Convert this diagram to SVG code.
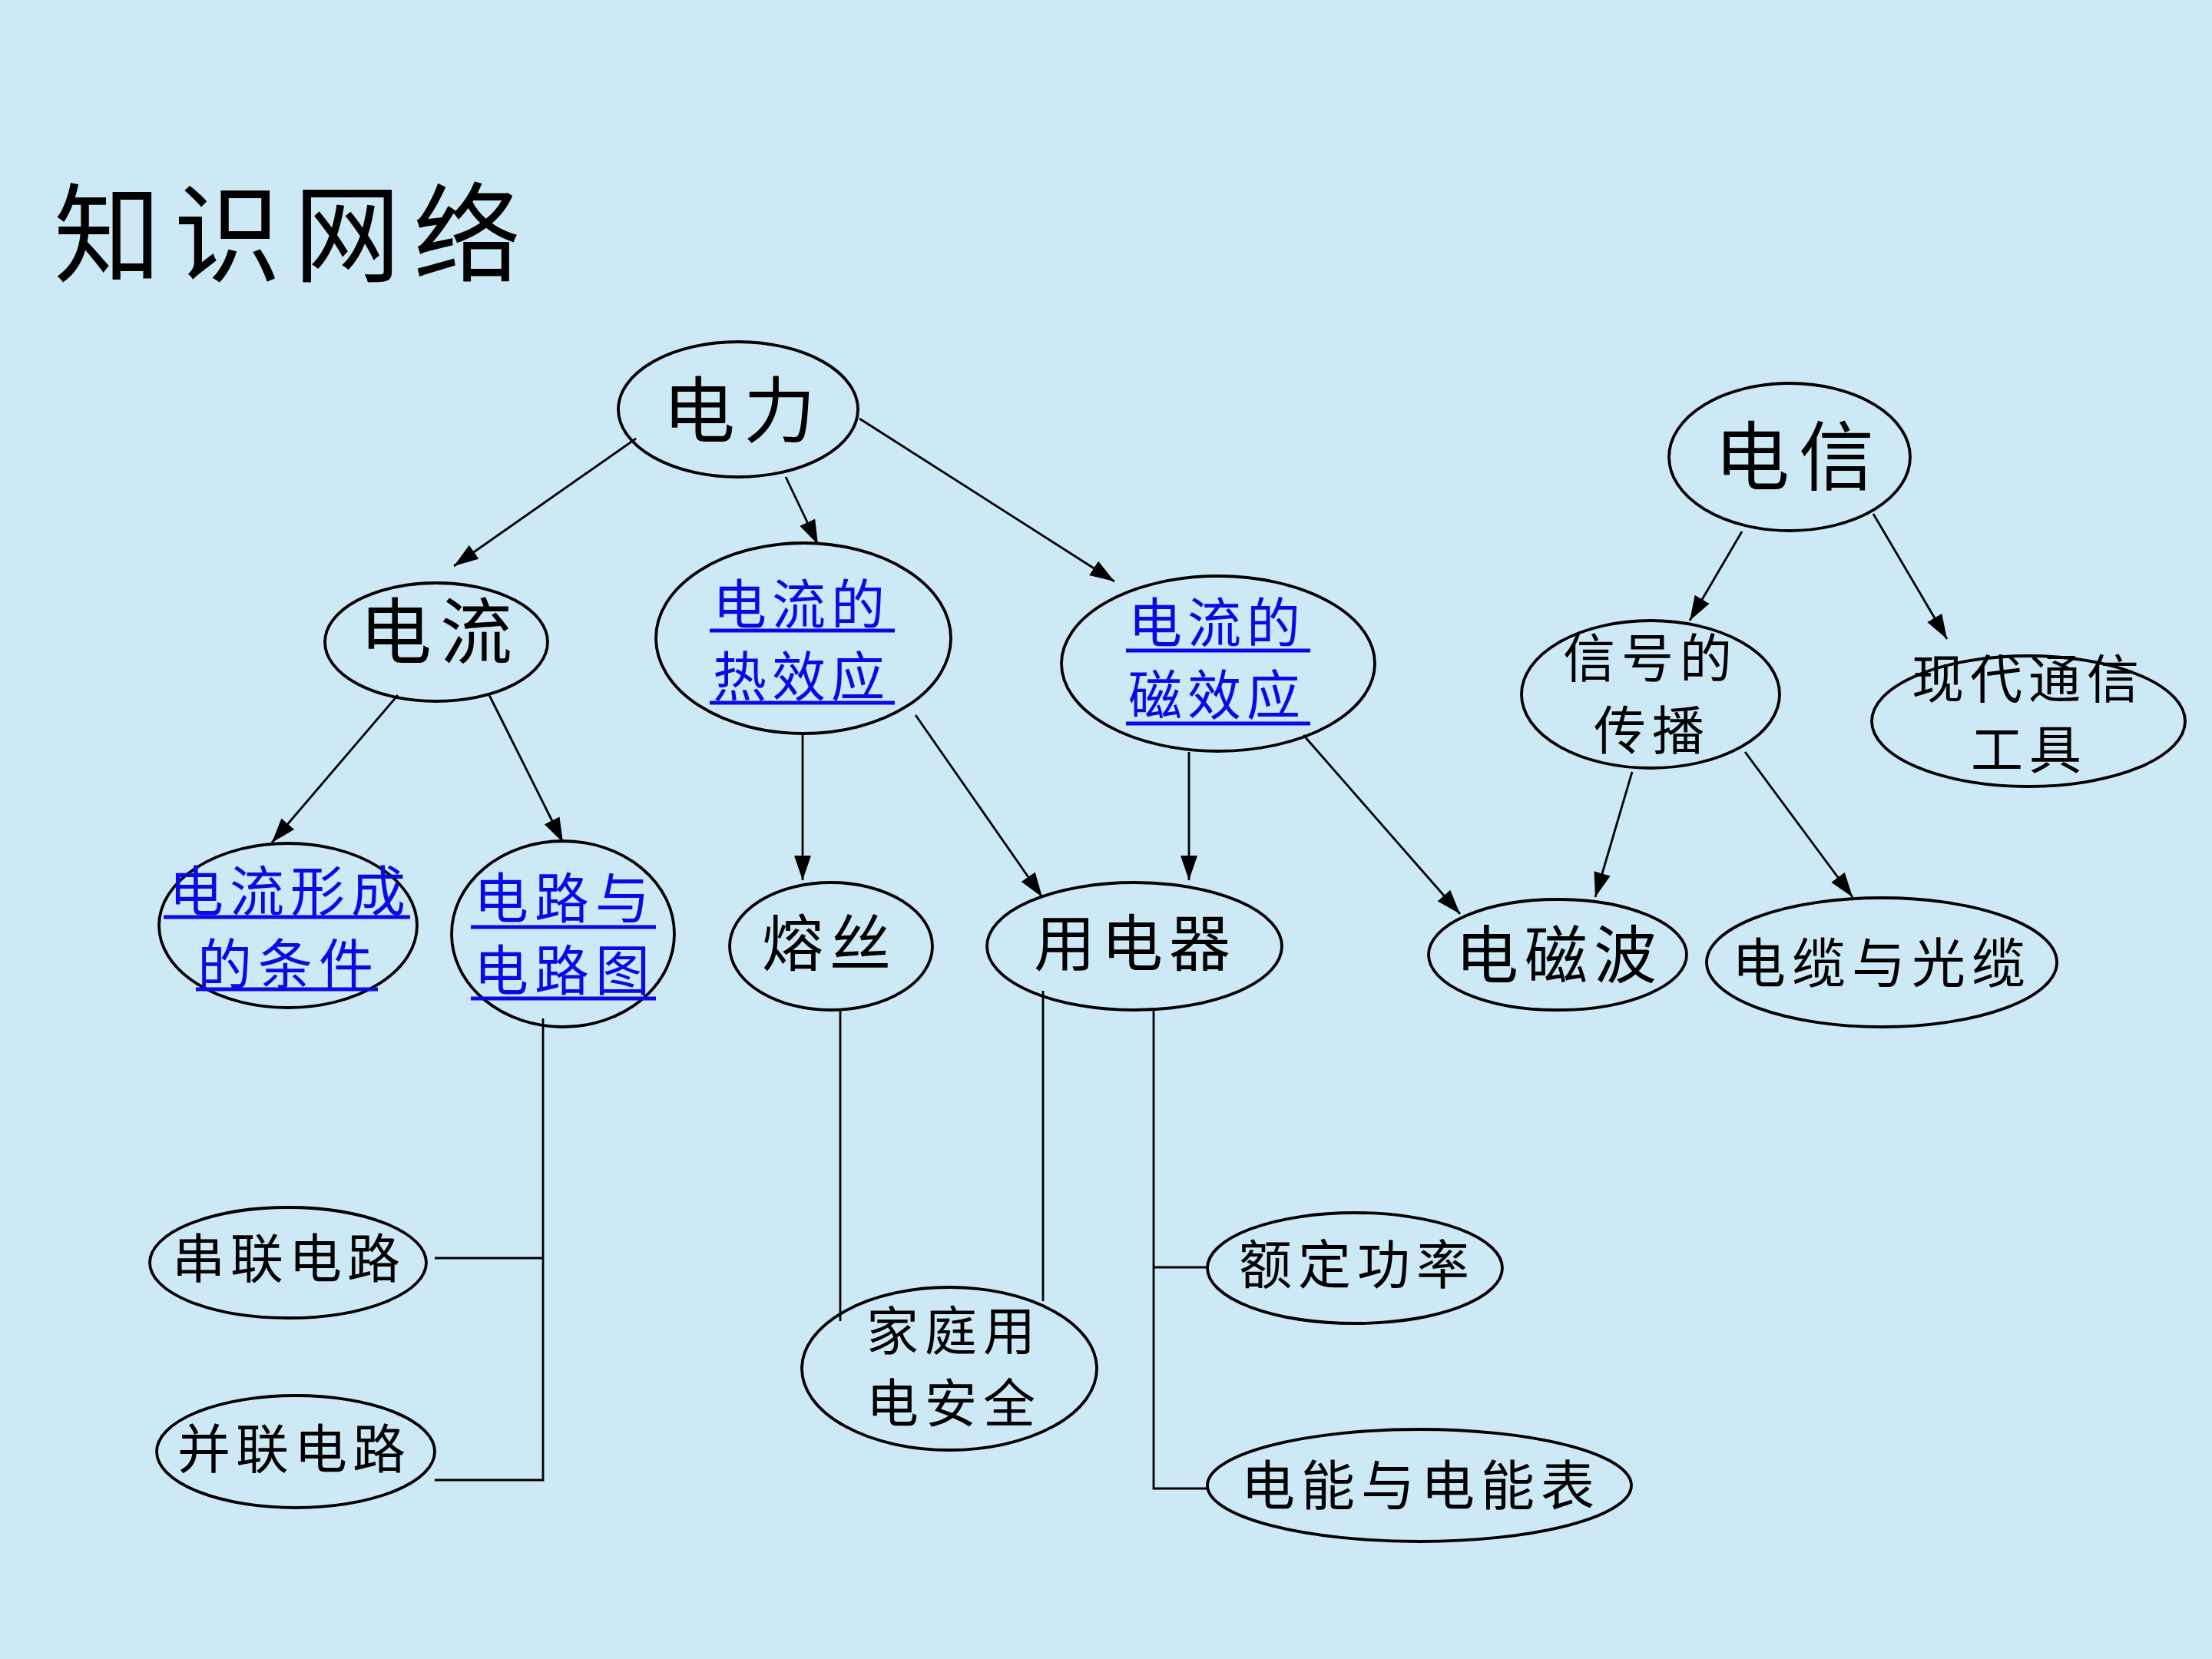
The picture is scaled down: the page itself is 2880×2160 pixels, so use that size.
<svg xmlns="http://www.w3.org/2000/svg" width="2880" height="2160" viewBox="0 0 2880 2160">
<defs>
<marker id="arr" markerUnits="userSpaceOnUse" markerWidth="34" markerHeight="24" refX="32" refY="11" orient="auto">
<path d="M0,0 L32,11 L0,22 z" fill="#000"/>
</marker>
<style>
.n{fill:none;stroke:#000;stroke-width:3.8}
.t{font-family:"Noto Sans CJK SC","Noto Sans",sans-serif;fill:#000}
.b{fill:#0a0ae6}
.u{stroke:#0a0ae6;stroke-width:5}
.c line,.c polyline{stroke:#000;stroke-width:2.8;fill:none}
.a{marker-end:url(#arr)}
</style>
</defs>
<rect width="2880" height="2160" fill="#cde9f5"/>
<text class="t" x="70" y="356" font-size="140" letter-spacing="16">知识网络</text>

<g class="c" id="connectors">
<line class="a" x1="828" y1="571" x2="591" y2="737"/>
<line class="a" x1="1023" y1="621" x2="1065" y2="709"/>
<line class="a" x1="1119" y1="545" x2="1451" y2="757"/>
<line class="a" x1="518" y1="905" x2="354" y2="1097"/>
<line class="a" x1="637" y1="905" x2="733" y2="1097"/>
<line class="a" x1="1045" y1="955" x2="1045" y2="1146"/>
<line class="a" x1="1192" y1="931" x2="1357" y2="1168"/>
<line class="a" x1="1548" y1="979" x2="1548" y2="1146"/>
<line class="a" x1="1697" y1="957" x2="1901" y2="1190"/>
<line class="a" x1="2268" y1="692" x2="2200" y2="808"/>
<line class="a" x1="2439" y1="669" x2="2535" y2="832"/>
<line class="a" x1="2125" y1="1005" x2="2077" y2="1168"/>
<line class="a" x1="2272" y1="979" x2="2412" y2="1168"/>
<polyline points="707,1326 707,1927 566,1927"/>
<line x1="566" y1="1638" x2="707" y2="1638"/>
<line x1="1094" y1="1313" x2="1094" y2="1720"/>
<line x1="1358" y1="1290" x2="1358" y2="1694"/>
<polyline points="1502,1313 1502,1938 1573,1938"/>
<line x1="1502" y1="1650" x2="1573" y2="1650"/>
</g>

<g id="dianli"><ellipse class="n" cx="961" cy="533" rx="156" ry="88"/><text class="t" x="863" y="569" font-size="94" letter-spacing="11">电力</text></g>
<g id="dianliu"><ellipse class="n" cx="568" cy="836" rx="145" ry="77"/><text class="t" x="468" y="857" font-size="94" letter-spacing="11">电流</text></g>
<g id="rexiaoying"><ellipse class="n" cx="1046" cy="831" rx="192" ry="124"/>
<text class="t b" x="928" y="813" font-size="70" letter-spacing="7">电流的</text><line class="u" x1="924" y1="821" x2="1165" y2="821"/>
<text class="t b" x="928" y="907" font-size="70" letter-spacing="7">热效应</text><line class="u" x1="924" y1="915" x2="1165" y2="915"/></g>
<g id="cixiaoying"><ellipse class="n" cx="1586" cy="864" rx="204" ry="114"/>
<text class="t b" x="1469" y="837" font-size="70" letter-spacing="7">电流的</text><line class="u" x1="1466" y1="847" x2="1706" y2="847"/>
<text class="t b" x="1469" y="931" font-size="70" letter-spacing="7">磁效应</text><line class="u" x1="1466" y1="942" x2="1706" y2="942"/></g>
<g id="dianxin"><ellipse class="n" cx="2330" cy="595" rx="157" ry="96"/><text class="t" x="2232" y="630" font-size="98" letter-spacing="12">电信</text></g>
<g id="xinhao"><ellipse class="n" cx="2149" cy="904" rx="168" ry="96"/>
<text class="t" x="2035" y="882" font-size="68" letter-spacing="8">信号的</text>
<text class="t" x="2075" y="976" font-size="68" letter-spacing="8">传播</text></g>
<g id="xiandai"><ellipse class="n" cx="2641" cy="939" rx="204" ry="85"/>
<text class="t" x="2489" y="909" font-size="68" letter-spacing="8">现代通信</text>
<text class="t" x="2566" y="1001" font-size="68" letter-spacing="8">工具</text></g>
<g id="xingcheng"><ellipse class="n" cx="375" cy="1205" rx="168" ry="107"/>
<text class="t b" x="220" y="1186" font-size="71" letter-spacing="8">电流形成</text><line class="u" x1="213" y1="1194" x2="534" y2="1194"/>
<text class="t b" x="257" y="1281" font-size="71" letter-spacing="8">的条件</text><line class="u" x1="255" y1="1288" x2="492" y2="1288"/></g>
<g id="dianlutu"><ellipse class="n" cx="733" cy="1216" rx="145" ry="121"/>
<text class="t b" x="617" y="1195" font-size="71" letter-spacing="8">电路与</text><line class="u" x1="613" y1="1207" x2="854" y2="1207"/>
<text class="t b" x="617" y="1289" font-size="71" letter-spacing="8">电路图</text><line class="u" x1="613" y1="1300" x2="854" y2="1300"/></g>
<g id="rongsi"><ellipse class="n" cx="1082" cy="1232" rx="132" ry="83"/><text class="t" x="992" y="1257" font-size="80" letter-spacing="8">熔丝</text></g>
<g id="yongdianqi"><ellipse class="n" cx="1477" cy="1232" rx="192" ry="83"/><text class="t" x="1346" y="1257" font-size="80" letter-spacing="8">用电器</text></g>
<g id="diancibo"><ellipse class="n" cx="2028" cy="1243" rx="168" ry="72"/><text class="t" x="1895" y="1273" font-size="82" letter-spacing="8">电磁波</text></g>
<g id="dianlan"><ellipse class="n" cx="2450" cy="1253" rx="228" ry="84"/><text class="t" x="2255" y="1280" font-size="70" letter-spacing="8">电缆与光缆</text></g>
<g id="chuanlian"><ellipse class="n" cx="375" cy="1644" rx="180" ry="72"/><text class="t" x="224" y="1664" font-size="69" letter-spacing="7">串联电路</text></g>
<g id="binglian"><ellipse class="n" cx="385" cy="1890" rx="181" ry="73"/><text class="t" x="231" y="1912" font-size="69" letter-spacing="7">并联电路</text></g>
<g id="jiating"><ellipse class="n" cx="1236" cy="1782" rx="192" ry="106"/>
<text class="t" x="1128" y="1758" font-size="68" letter-spacing="8">家庭用</text>
<text class="t" x="1128" y="1852" font-size="68" letter-spacing="8">电安全</text></g>
<g id="eding"><ellipse class="n" cx="1764" cy="1651" rx="192" ry="72"/><text class="t" x="1613" y="1672" font-size="69" letter-spacing="8">额定功率</text></g>
<g id="diannengbiao"><ellipse class="n" cx="1848" cy="1934" rx="276" ry="73"/><text class="t" x="1616" y="1960" font-size="70" letter-spacing="8">电能与电能表</text></g>
</svg>
